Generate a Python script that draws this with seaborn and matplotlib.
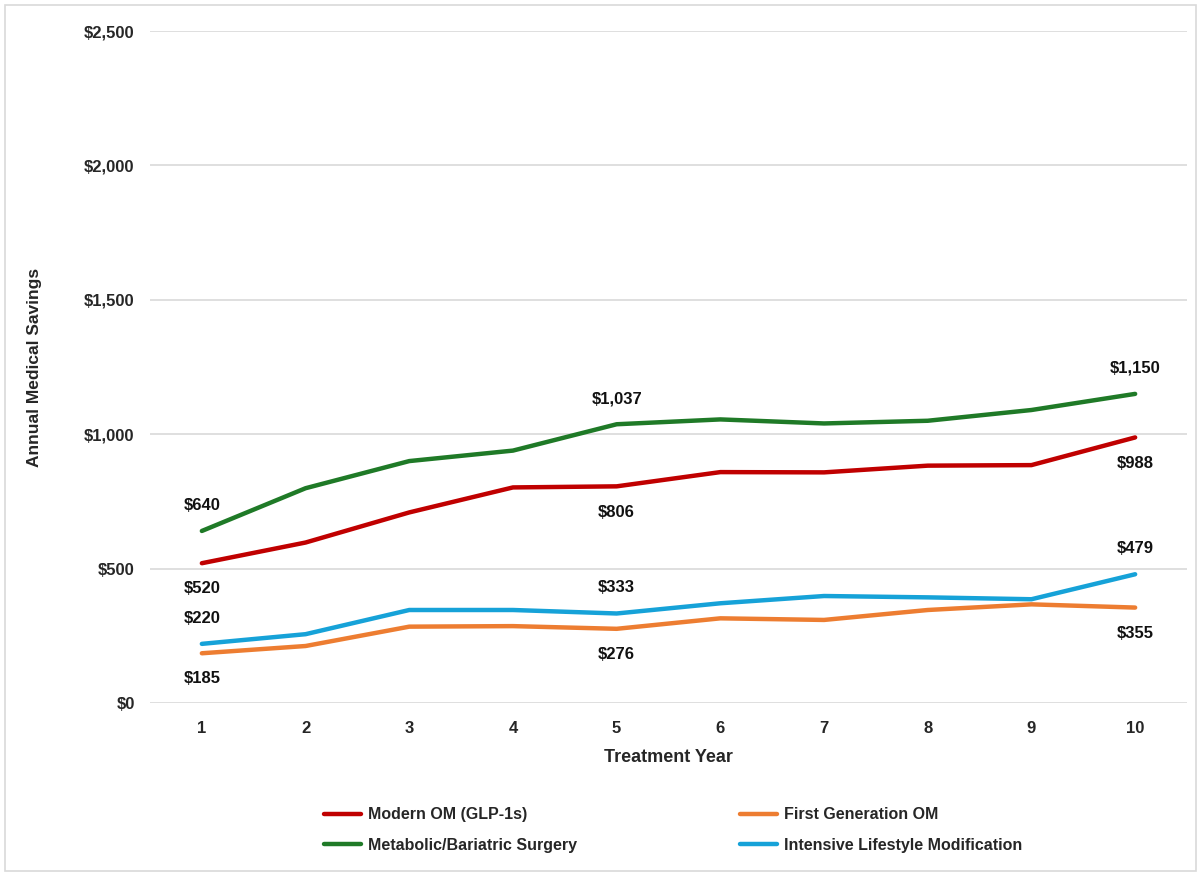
import matplotlib
matplotlib.use("Agg")
import matplotlib.pyplot as plt
from matplotlib.patches import Rectangle
from matplotlib.ticker import FuncFormatter
import seaborn as sns
import pandas as pd

years = [1, 2, 3, 4, 5, 6, 7, 8, 9, 10]
modern_om = [520, 597, 709, 802, 806, 859, 858, 883, 885, 988]
first_gen_om = [185, 212, 284, 286, 276, 315, 309, 346, 367, 355]
surgery = [640, 799, 900, 939, 1037, 1055, 1040, 1050, 1090, 1150]
lifestyle = [220, 256, 346, 346, 333, 371, 398, 393, 386, 479]

series_names = [
    "Modern OM (GLP-1s)",
    "Metabolic/Bariatric Surgery",
    "First Generation OM",
    "Intensive Lifestyle Modification",
]
series_values = [modern_om, surgery, first_gen_om, lifestyle]
colors = ["#C00000", "#1F7A27", "#ED7D31", "#16A2D8"]
# labelled years and whether each series' label sits above (+1) or below (-1)
label_years = [1, 5, 10]
label_side = [-1, 1, -1, 1]

y_ticks = [0, 500, 1000, 1500, 2000, 2500]

rows = []
for name, vals in zip(series_names, series_values):
    for yr, v in zip(years, vals):
        rows.append({"Year": yr, "Savings": v, "Series": name})
df = pd.DataFrame(rows)

sns.set_style("white")
plt.rcParams["font.family"] = ["Liberation Sans", "DejaVu Sans"]

fig = plt.figure(figsize=(12.01, 8.76), dpi=100)
ax = fig.add_axes([150 / 1201, 1 - 703 / 876, (1187 - 150) / 1201, (703 - 31) / 876])

sns.lineplot(
    data=df, x="Year", y="Savings", hue="Series", hue_order=series_names,
    palette=colors, linewidth=3.2, ax=ax, legend=False, solid_capstyle="round",
)

ax.set_xlim(0.5, 10.5)
ax.set_ylim(0, 2500)
ax.set_yticks(y_ticks)
ax.set_xticks(years)
ax.yaxis.set_major_formatter(FuncFormatter(lambda v, p: f"${v:,.0f}"))
ax.grid(axis="y", color="#D9D9D9", linewidth=1.2)
ax.grid(axis="x", visible=False)
ax.set_axisbelow(True)
for s in ax.spines.values():
    s.set_visible(False)
ax.tick_params(axis="both", length=0, labelsize=12)
ax.tick_params(axis="y", pad=11)
ax.tick_params(axis="x", pad=13)
for lab in ax.get_xticklabels() + ax.get_yticklabels():
    lab.set_fontweight("bold")

ax.set_xlabel("Treatment Year", fontsize=13, fontweight="bold", labelpad=9)
ax.set_ylabel("Annual Medical Savings", fontsize=12.5, fontweight="bold", labelpad=30)

# value labels at the first, middle and last years
for vals, side in zip(series_values, label_side):
    for yr in label_years:
        v = vals[years.index(yr)]
        ax.annotate(
            f"${v:,.0f}", xy=(yr, v), xytext=(0, 18.5 * side),
            textcoords="offset points", ha="center", va="center",
            fontsize=12, fontweight="bold", color="#111111",
        )

handles = [plt.Line2D([], [], color=c, linewidth=3.2, solid_capstyle="round") for c in colors]
fig.legend(
    handles, series_names, ncol=2, loc="center left",
    bbox_to_anchor=(310 / 1201, 1 - 830 / 876), frameon=False,
    prop={"family": ["Liberation Sans"], "weight": "bold", "size": 11.5},
    handlelength=2.3, handletextpad=0.45, columnspacing=10.2, labelspacing=0.95,
)

fig.add_artist(Rectangle((5 / 1201, 5 / 876), 1191 / 1201, 866 / 876,
                         transform=fig.transFigure, fill=False,
                         edgecolor="#D9D9D9", linewidth=1.2))

fig.savefig("out.png", dpi=100)
